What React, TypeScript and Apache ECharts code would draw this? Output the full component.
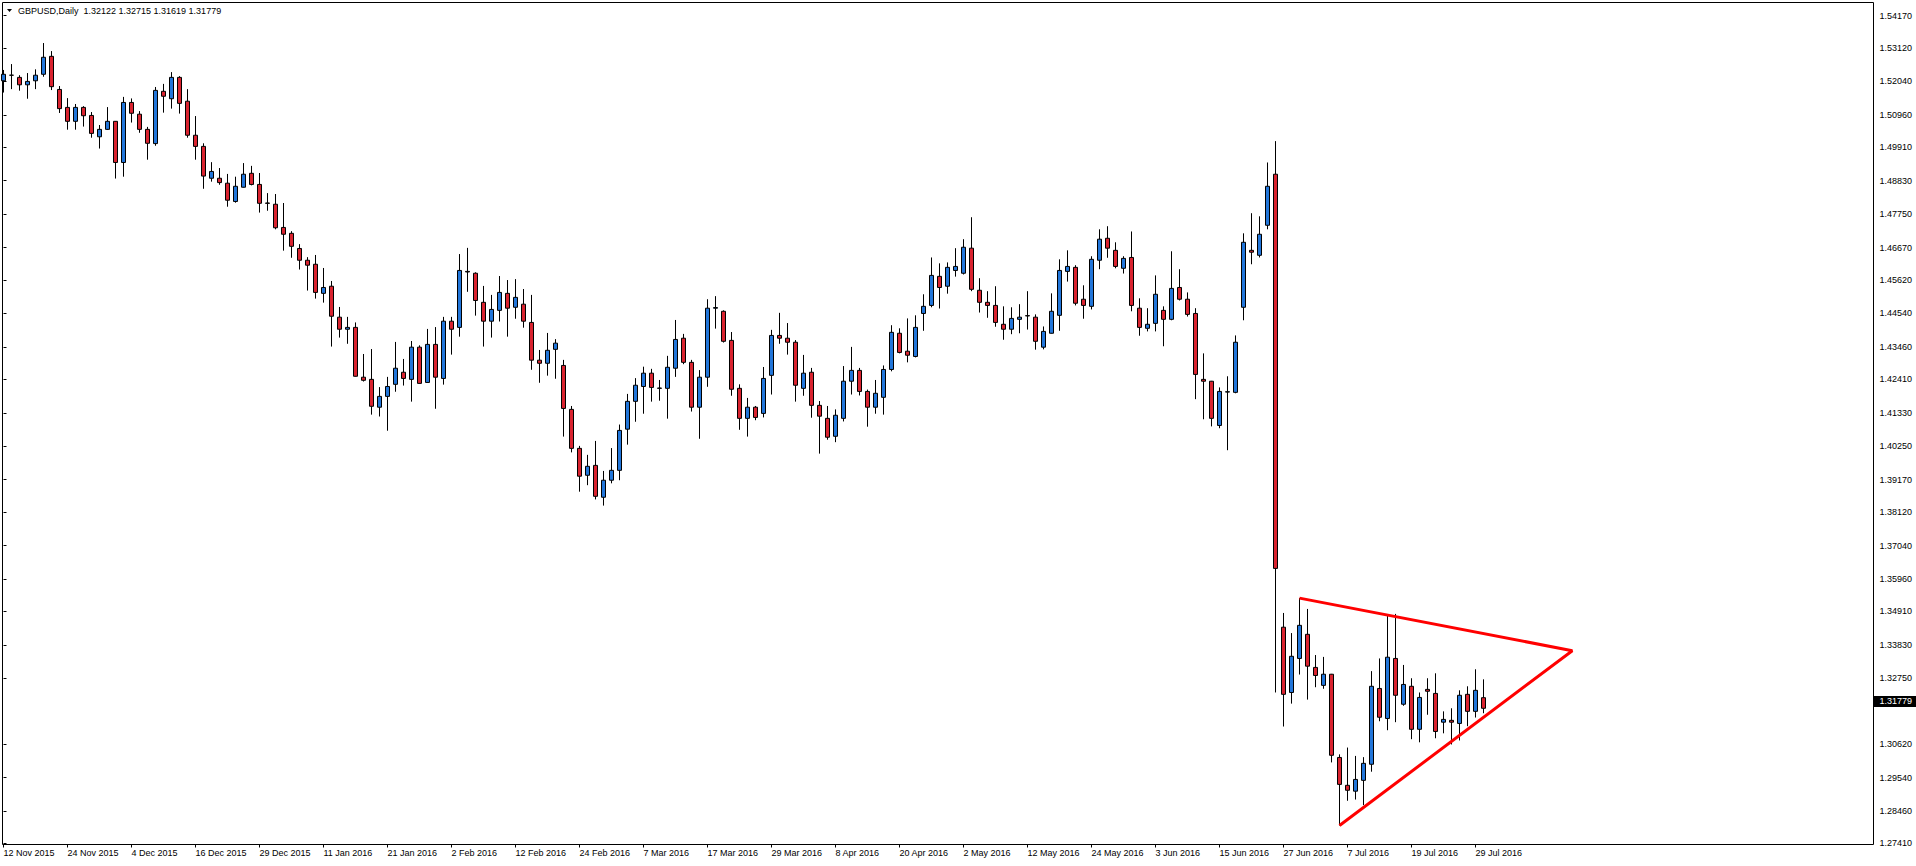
import React, { useEffect, useRef } from "react";
import * as echarts from "echarts";

// Date labels on the time axis: one every 8 daily bars, starting at bar 0
const dateTicks = [
  "12 Nov 2015", "24 Nov 2015", "4 Dec 2015", "16 Dec 2015", "29 Dec 2015",
  "11 Jan 2016", "21 Jan 2016", "2 Feb 2016", "12 Feb 2016", "24 Feb 2016",
  "7 Mar 2016", "17 Mar 2016", "29 Mar 2016", "8 Apr 2016", "20 Apr 2016",
  "2 May 2016", "12 May 2016", "24 May 2016", "3 Jun 2016", "15 Jun 2016",
  "27 Jun 2016", "7 Jul 2016", "19 Jul 2016", "29 Jul 2016",
];
const barsPerDateTick = 8;

// Price scale labels
const priceTicks = [
  1.2741, 1.2846, 1.2954, 1.3062, 1.3275, 1.3383, 1.3491, 1.3596, 1.3704,
  1.3812, 1.3917, 1.4025, 1.4133, 1.4241, 1.4346, 1.4454, 1.4562, 1.4667,
  1.4775, 1.4883, 1.4991, 1.5096, 1.5204, 1.5312, 1.5417,
];

// GBPUSD daily candles: [open, high, low, close]
const candles: number[][] = [
  [1.5206, 1.5241, 1.5168, 1.5227], [1.5224, 1.526, 1.5179, 1.5224], [1.5217, 1.5224, 1.5174, 1.5193],
  [1.5193, 1.5231, 1.5148, 1.5204], [1.5206, 1.5243, 1.5179, 1.5224], [1.5227, 1.5328, 1.5219, 1.5282],
  [1.5285, 1.5302, 1.5176, 1.5187], [1.5178, 1.5189, 1.5102, 1.5116], [1.512, 1.515, 1.5048, 1.5075],
  [1.5075, 1.5131, 1.5048, 1.512], [1.512, 1.5124, 1.5058, 1.5093], [1.5094, 1.5105, 1.5022, 1.5036],
  [1.5025, 1.5063, 1.4987, 1.5049], [1.5049, 1.5121, 1.5047, 1.5075], [1.5075, 1.5076, 1.489, 1.4942],
  [1.4942, 1.5154, 1.4896, 1.5136], [1.5136, 1.5149, 1.5071, 1.5101], [1.5098, 1.5108, 1.5038, 1.5049],
  [1.5049, 1.5057, 1.4951, 1.5004], [1.5003, 1.5186, 1.4996, 1.5175], [1.5172, 1.5196, 1.5103, 1.5156],
  [1.5148, 1.5234, 1.5116, 1.5217], [1.5217, 1.5221, 1.51, 1.5133], [1.514, 1.5179, 1.5022, 1.503],
  [1.503, 1.5092, 1.4951, 1.4994], [1.4994, 1.5004, 1.4857, 1.4898], [1.4891, 1.4943, 1.488, 1.4913],
  [1.4891, 1.4924, 1.487, 1.4877], [1.4875, 1.4905, 1.4799, 1.482], [1.4816, 1.4896, 1.4812, 1.4865],
  [1.4862, 1.494, 1.4861, 1.4904], [1.4907, 1.4931, 1.4868, 1.4871], [1.4871, 1.4908, 1.478, 1.481],
  [1.4811, 1.4843, 1.4786, 1.481], [1.4807, 1.484, 1.4726, 1.4731], [1.4732, 1.4811, 1.4657, 1.471],
  [1.4713, 1.472, 1.4634, 1.4671], [1.4664, 1.4678, 1.4596, 1.4626], [1.4626, 1.4636, 1.4528, 1.461],
  [1.4613, 1.4643, 1.4502, 1.4522], [1.4519, 1.4601, 1.4489, 1.4538], [1.4542, 1.4559, 1.4347, 1.4445],
  [1.4442, 1.4475, 1.4376, 1.4403], [1.4403, 1.4443, 1.4356, 1.4409], [1.4409, 1.4425, 1.425, 1.4251],
  [1.4248, 1.4323, 1.4234, 1.4238], [1.4241, 1.4339, 1.4127, 1.4154], [1.4151, 1.4216, 1.4121, 1.4186],
  [1.4186, 1.4249, 1.4075, 1.4218], [1.4225, 1.4362, 1.4201, 1.4277], [1.4264, 1.4307, 1.4221, 1.4244],
  [1.4241, 1.4365, 1.4169, 1.4345], [1.4345, 1.4351, 1.4227, 1.4228], [1.4231, 1.4404, 1.423, 1.4354],
  [1.4354, 1.441, 1.4146, 1.4248], [1.4244, 1.4443, 1.4224, 1.4429], [1.4429, 1.4443, 1.4321, 1.4403],
  [1.4409, 1.4646, 1.4379, 1.4593], [1.459, 1.4666, 1.4524, 1.4588], [1.4584, 1.4587, 1.4447, 1.4496],
  [1.449, 1.4543, 1.4347, 1.4429], [1.4429, 1.4514, 1.4376, 1.4467], [1.4464, 1.4575, 1.4428, 1.4522],
  [1.4519, 1.4562, 1.4379, 1.4471], [1.4474, 1.4565, 1.4437, 1.4506], [1.4484, 1.4533, 1.4408, 1.4429],
  [1.4425, 1.4514, 1.4272, 1.4303], [1.4303, 1.4336, 1.423, 1.4293], [1.4293, 1.4391, 1.4253, 1.4335],
  [1.4338, 1.4371, 1.4243, 1.4358], [1.4286, 1.4304, 1.4056, 1.4147], [1.4144, 1.4155, 1.4005, 1.4018],
  [1.4018, 1.4026, 1.3878, 1.3928], [1.3931, 1.3997, 1.3899, 1.396], [1.3963, 1.4042, 1.3853, 1.3863],
  [1.386, 1.3945, 1.3833, 1.3915], [1.3915, 1.4019, 1.3905, 1.3947], [1.3947, 1.4095, 1.3915, 1.4076],
  [1.408, 1.4194, 1.403, 1.417], [1.417, 1.4245, 1.4104, 1.4222], [1.4218, 1.4282, 1.413, 1.4261],
  [1.4261, 1.4275, 1.4169, 1.4215], [1.4213, 1.4239, 1.4172, 1.4212], [1.4212, 1.4317, 1.4114, 1.428],
  [1.4277, 1.4433, 1.4249, 1.437], [1.4374, 1.4388, 1.429, 1.4296], [1.4296, 1.4304, 1.4137, 1.4151],
  [1.4151, 1.4271, 1.4049, 1.4248], [1.4248, 1.45, 1.4217, 1.4471], [1.4471, 1.451, 1.4405, 1.4473],
  [1.4461, 1.4464, 1.436, 1.4364], [1.4367, 1.4394, 1.4188, 1.4209], [1.4212, 1.4225, 1.4078, 1.4115],
  [1.4115, 1.4181, 1.4056, 1.4151], [1.4151, 1.4155, 1.4109, 1.4118], [1.4131, 1.4281, 1.4118, 1.4244],
  [1.4254, 1.4401, 1.4192, 1.4383], [1.4383, 1.4456, 1.4356, 1.4374], [1.4374, 1.4423, 1.4321, 1.4361],
  [1.4361, 1.4368, 1.4169, 1.4222], [1.4212, 1.432, 1.4188, 1.4261], [1.4264, 1.4278, 1.4117, 1.4157],
  [1.4157, 1.4171, 1.4001, 1.4122], [1.4115, 1.4155, 1.4046, 1.4054], [1.4057, 1.4144, 1.4038, 1.4125],
  [1.4115, 1.4284, 1.4105, 1.4235], [1.4235, 1.4346, 1.4192, 1.427], [1.427, 1.4278, 1.4189, 1.4202],
  [1.4202, 1.4208, 1.4088, 1.4151], [1.4151, 1.4239, 1.413, 1.4196], [1.4183, 1.4286, 1.4127, 1.4273],
  [1.4273, 1.4416, 1.4267, 1.4393], [1.439, 1.4406, 1.4325, 1.4328], [1.4332, 1.4438, 1.4296, 1.4319],
  [1.4315, 1.4448, 1.4312, 1.4409], [1.4454, 1.4516, 1.4398, 1.4477], [1.448, 1.4635, 1.4474, 1.4577],
  [1.4574, 1.4616, 1.447, 1.4538], [1.4542, 1.4619, 1.4518, 1.4603], [1.4593, 1.4665, 1.4573, 1.4606],
  [1.4584, 1.4694, 1.458, 1.4668], [1.4665, 1.4765, 1.4526, 1.4532], [1.4529, 1.4568, 1.4457, 1.449],
  [1.449, 1.4526, 1.444, 1.448], [1.448, 1.4542, 1.4411, 1.4425], [1.4419, 1.4477, 1.4369, 1.4403],
  [1.4403, 1.4474, 1.4387, 1.4438], [1.4435, 1.4484, 1.439, 1.4442], [1.4447, 1.4526, 1.4402, 1.4446],
  [1.4442, 1.4451, 1.4337, 1.4364], [1.4345, 1.4412, 1.4338, 1.4396], [1.439, 1.4519, 1.4389, 1.4461],
  [1.4448, 1.4629, 1.4398, 1.4593], [1.459, 1.4658, 1.4557, 1.4606], [1.4603, 1.461, 1.448, 1.4487],
  [1.45, 1.4545, 1.4437, 1.448], [1.4477, 1.4639, 1.4467, 1.4629], [1.4626, 1.4726, 1.4597, 1.4694],
  [1.4697, 1.4736, 1.4634, 1.4665], [1.4658, 1.4684, 1.46, 1.4606], [1.46, 1.4639, 1.4583, 1.4632],
  [1.4635, 1.4719, 1.4461, 1.448], [1.4471, 1.4503, 1.4382, 1.4409], [1.4406, 1.4471, 1.4396, 1.4419],
  [1.4422, 1.4577, 1.4396, 1.4516], [1.4464, 1.4477, 1.4348, 1.4435], [1.4435, 1.4655, 1.4432, 1.4535],
  [1.4538, 1.4597, 1.4496, 1.45], [1.45, 1.4522, 1.4444, 1.4451], [1.4454, 1.4471, 1.4177, 1.4257],
  [1.4241, 1.4325, 1.4112, 1.4235], [1.4235, 1.4236, 1.4089, 1.4115], [1.4092, 1.4215, 1.4083, 1.4202],
  [1.42, 1.4251, 1.4012, 1.4201], [1.4199, 1.4383, 1.4196, 1.4361], [1.4474, 1.4713, 1.4432, 1.4684],
  [1.4658, 1.4778, 1.4613, 1.4652], [1.4642, 1.4768, 1.4635, 1.471], [1.4739, 1.4942, 1.4726, 1.4865],
  [1.4904, 1.5011, 1.3229, 1.363], [1.344, 1.3486, 1.3119, 1.3223], [1.3229, 1.3421, 1.3193, 1.3346],
  [1.3339, 1.3534, 1.3287, 1.3446], [1.3417, 1.3499, 1.3206, 1.3314], [1.331, 1.335, 1.3246, 1.3284],
  [1.3252, 1.3344, 1.3241, 1.3288], [1.3288, 1.3289, 1.3003, 1.3026], [1.3019, 1.3029, 1.2799, 1.2932],
  [1.2929, 1.3051, 1.2879, 1.2913], [1.291, 1.3024, 1.2883, 1.2948], [1.2945, 1.302, 1.2865, 1.3],
  [1.2997, 1.3298, 1.2973, 1.3249], [1.3242, 1.3339, 1.3136, 1.3149], [1.3145, 1.3479, 1.3107, 1.3343],
  [1.3339, 1.3483, 1.3133, 1.322], [1.3191, 1.3318, 1.3186, 1.3255], [1.3249, 1.3275, 1.3078, 1.311],
  [1.311, 1.3229, 1.3068, 1.3213], [1.3239, 1.3275, 1.3157, 1.3233], [1.3226, 1.3291, 1.3081, 1.3103],
  [1.3133, 1.3168, 1.3097, 1.3142], [1.3139, 1.3178, 1.3061, 1.3133], [1.3129, 1.3236, 1.3074, 1.322],
  [1.3223, 1.3249, 1.312, 1.3168], [1.3168, 1.3304, 1.3148, 1.3236], [1.32122, 1.32715, 1.31619, 1.31779],
];

// Hand-drawn triangle (bar index, price): upper start, apex, lower start
const triangleBars = [162, 196.1, 167];
const trianglePrices = [1.3534, 1.3364, 1.2799];

const FONT = "'Liberation Sans', Arial, sans-serif";
const BULL = "#2276DA";
const BEAR = "#D9232F";

export default function App() {
  const ref = useRef<HTMLDivElement>(null);

  useEffect(() => {
    const chart = echarts.init(ref.current!, null, { renderer: "svg" });
    const data = candles.map((c, i) => [i, c[0], c[3], c[2], c[1]]);
    const last = candles[candles.length - 1];
    const tickIdx = dateTicks.map((_, k) => k * barsPerDateTick);
    const title =
      "GBPUSD,Daily  " + [last[0], last[1], last[2], last[3]].map((v) => v.toFixed(5)).join(" ");

    chart.setOption({
      animation: false,
      backgroundColor: "#ffffff",
      textStyle: { fontFamily: FONT },
      grid: {
        left: 2.5,
        top: 2.5,
        right: 42.5,
        bottom: 21.5,
        show: true,
        borderColor: "#000",
        borderWidth: 1,
        backgroundColor: "transparent",
      },
      xAxis: {
        type: "value",
        min: -0.125,
        max: 233.75,
        axisLine: { show: false },
        splitLine: { show: false },
        axisTick: {
          show: true,
          customValues: tickIdx,
          length: 3,
          lineStyle: { color: "#000", width: 1 },
        },
        axisLabel: {
          customValues: tickIdx,
          formatter: (v: number) => dateTicks[Math.round(v / barsPerDateTick)] ?? "",
          align: "left",
          color: "#000",
          fontFamily: FONT,
          fontSize: 9,
          margin: 4,
        },
      },
      yAxis: {
        type: "value",
        position: "right",
        min: 1.273768,
        max: 1.545902,
        scale: true,
        axisLine: { show: false },
        splitLine: { show: false },
        axisTick: {
          show: true,
          customValues: priceTicks,
          length: 3,
          lineStyle: { color: "#000", width: 1 },
        },
        axisLabel: {
          customValues: priceTicks,
          formatter: (v: number) => v.toFixed(5),
          color: "#000",
          fontFamily: FONT,
          fontSize: 9,
          margin: 6,
          align: "left",
        },
      },
      graphic: [
        {
          type: "polygon",
          shape: { points: [[7, 9], [12, 9], [9.5, 12]] },
          style: { fill: "#000" },
        },
        {
          type: "text",
          style: {
            x: 18,
            y: 11,
            text: title,
            fill: "#000",
            font: `9px ${FONT}`,
            verticalAlign: "middle",
          },
        },
      ],
      series: [
        {
          type: "candlestick",
          data,
          barWidth: 4,
          itemStyle: {
            color: BULL,
            color0: BEAR,
            borderColor: "#000",
            borderColor0: "#000",
            borderColorDoji: "#000",
            borderWidth: 1,
          },
          markLine: {
            silent: true,
            symbol: ["none", "none"],
            lineStyle: { color: "rgba(0,0,0,0)", width: 1, type: "solid" },
            label: {
              show: true,
              position: "end",
              distance: 0,
              formatter: () => last[3].toFixed(5),
              backgroundColor: "#000",
              color: "#fff",
              opacity: 1,
              fontFamily: FONT,
              fontSize: 9,
              padding: [1, 4, 1, 6],
            },
            data: [{ yAxis: last[3] }],
          },
        },
        {
          type: "line",
          data: triangleBars.map((b, i) => [b, trianglePrices[i]]),
          symbol: "none",
          silent: true,
          lineStyle: { color: "#FF0000", width: 3 },
          z: 5,
        },
      ],
    });

    return () => chart.dispose();
  }, []);

  return (
    <div
      ref={ref}
      style={{ position: "fixed", left: 0, top: 0, width: 1916, height: 866, background: "#fff" }}
    />
  );
}
